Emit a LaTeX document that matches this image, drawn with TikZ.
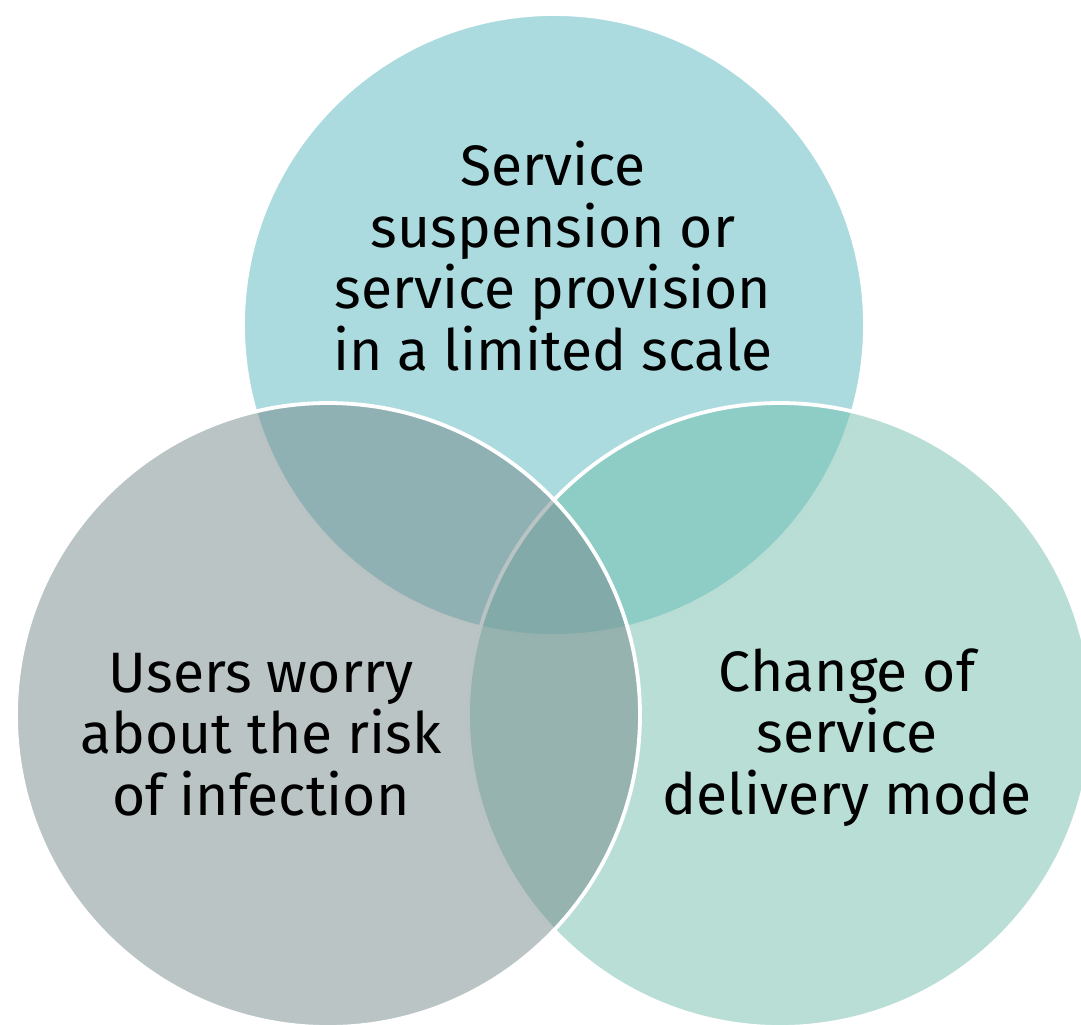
\documentclass[tikz,border=0pt]{standalone}
\usepackage{fontspec}
\setmainfont{Fira Sans}
\definecolor{ctop}{RGB}{87,183,191}
\definecolor{cright}{RGB}{115,189,173}
\definecolor{cleft}{RGB}{117,137,139}
\begin{document}
\begin{tikzpicture}[x=0.5pt,y=-0.5pt,
  venn/.style={circle, inner sep=0pt, draw=white, line width=1.9pt, fill opacity=0.5, draw opacity=1},
  lbl/.style={align=center, anchor=base, inner sep=0pt, text=black,
    font=\fontsize{28.5pt}{30.7pt}\selectfont}]
\useasboundingbox (0,0) rectangle (1081,1024);
\clip (0,0) rectangle (1081,1024);
\node[venn, fill=ctop, minimum size=311pt] (top) at (554,325) {};
\node[venn, fill=cright, minimum size=312pt] (right) at (780,715) {};
\node[venn, fill=cleft, minimum size=312pt] (left) at (328,715) {};
\node[lbl] (ttop) at (553,370) {Service\\suspension or\\service provision\\in a limited scale};
\node[lbl] (tleft) at (261,815) {Users worry\\about the risk\\of infection};
\node[lbl] (tright) at (847,814) {Change of\\service\\delivery mode};
\end{tikzpicture}
\end{document}
